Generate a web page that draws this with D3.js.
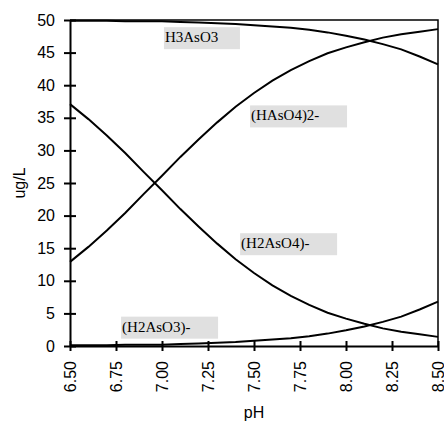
<!DOCTYPE html>
<html>
<head>
<meta charset="utf-8">
<script src="https://cdn.jsdelivr.net/npm/d3@7"></script>
<style>
  body { margin: 0; background: #fff; }
  svg { display: block; }
</style>
</head>
<body>
<div id="chart"></div>
<script>
// pH steps
const pH = [6.5, 6.6, 6.7, 6.8, 6.9, 7.0, 7.1, 7.2, 7.3, 7.4, 7.5,
            7.6, 7.7, 7.8, 7.9, 8.0, 8.1, 8.2, 8.3, 8.4, 8.5];
// concentrations, ug/L
const h3aso3  = [49.9, 49.9, 49.9, 49.8, 49.8, 49.8, 49.7, 49.6, 49.5, 49.4, 49.2,
                 49.0, 48.8, 48.5, 48.1, 47.6, 47.0, 46.3, 45.5, 44.4, 43.2];
const h2aso3  = [0.1, 0.1, 0.1, 0.2, 0.2, 0.2, 0.3, 0.4, 0.5, 0.6, 0.8,
                 1.0, 1.2, 1.5, 1.9, 2.4, 3.0, 3.7, 4.5, 5.6, 6.8];
const h2aso4  = [37.1, 34.8, 32.3, 29.6, 26.7, 23.9, 21.0, 18.3, 15.7, 13.3, 11.2,
                 9.3, 7.7, 6.3, 5.1, 4.2, 3.4, 2.7, 2.2, 1.8, 1.4];
const haso4   = [12.9, 15.2, 17.7, 20.4, 23.3, 26.1, 29.0, 31.7, 34.3, 36.7, 38.8,
                 40.7, 42.3, 43.7, 44.9, 45.8, 46.6, 47.3, 47.8, 48.2, 48.6];
const xTicks = [6.5, 6.75, 7.0, 7.25, 7.5, 7.75, 8.0, 8.25, 8.5];
const yTicks = [0, 5, 10, 15, 20, 25, 30, 35, 40, 45, 50];
// labels placed at (pH, ug/L) of the text baseline start
const labels = [
  { text: "H3AsO3",    px: 7.016, v: 46.6, w: 76 },
  { text: "(HAsO4)2-", px: 7.484, v: 34.6, w: 97 },
  { text: "(H2AsO4)-", px: 7.43,  v: 15.0, w: 97 },
  { text: "(H2AsO3)-", px: 6.783, v: 2.2,  w: 97 }
];

const width = 444, height = 424;
const margin = { top: 20, right: 6, bottom: 78, left: 70 };
const svg = d3.select("#chart").append("svg")
  .attr("width", width).attr("height", height);

const x = d3.scaleLinear().domain([6.5, 8.5]).range([margin.left, width - margin.right]);
const y = d3.scaleLinear().domain([0, 50]).range([height - margin.bottom, margin.top]);

// frame (top and right)
svg.append("path")
  .attr("d", "M" + x(6.5) + "," + y(50) + "H" + x(8.5) + "V" + y(0))
  .attr("fill", "none").attr("stroke", "#000").attr("stroke-width", 1.5);

// label boxes
labels.forEach(l => {
  svg.append("rect")
    .attr("x", x(l.px) - 1).attr("y", y(l.v) - 15)
    .attr("width", l.w).attr("height", 22)
    .attr("fill", "#e0e0e0");
  svg.append("text")
    .attr("x", x(l.px)).attr("y", y(l.v))
    .attr("font-family", "Liberation Serif, serif")
    .attr("font-size", 15)
    .attr("fill", "#000")
    .text(l.text);
});

// curves
const line = d3.line().x((d, i) => x(pH[i])).y(d => y(d));
[h3aso3, h2aso3, h2aso4, haso4].forEach(s => {
  svg.append("path")
    .attr("d", line(s))
    .attr("fill", "none").attr("stroke", "#000").attr("stroke-width", 2);
});

// y axis
const yAxis = svg.append("g")
  .attr("transform", "translate(" + x(6.5) + ",0)")
  .call(d3.axisLeft(y).tickValues(yTicks).tickSize(0).tickPadding(15));
yAxis.select(".domain").attr("stroke", "#000").attr("stroke-width", 2);
yAxis.selectAll("text").attr("font-family", "Liberation Sans, Arial, sans-serif")
  .attr("font-size", 16).attr("fill", "#000");
yAxis.selectAll(".tick").append("line")
  .attr("x1", -6).attr("x2", 6).attr("stroke", "#000").attr("stroke-width", 2);

// x axis
const xAxis = svg.append("g")
  .attr("transform", "translate(0," + y(0) + ")")
  .call(d3.axisBottom(x).tickValues(xTicks).tickSize(0).tickFormat(d3.format(".2f")));
xAxis.select(".domain").attr("stroke", "#000").attr("stroke-width", 2);
xAxis.selectAll(".tick").append("line")
  .attr("y1", -5).attr("y2", 5).attr("stroke", "#000").attr("stroke-width", 2);
xAxis.selectAll("text")
  .attr("font-family", "Liberation Sans, Arial, sans-serif")
  .attr("font-size", 16).attr("fill", "#000")
  .attr("text-anchor", "end")
  .attr("transform", "rotate(-90)")
  .attr("x", -15).attr("y", 0).attr("dy", "0.35em");

// axis titles
svg.append("text")
  .attr("x", (x(6.5) + x(8.5)) / 2).attr("y", 418)
  .attr("text-anchor", "middle")
  .attr("font-family", "Liberation Sans, Arial, sans-serif").attr("font-size", 16)
  .text("pH");
svg.append("text")
  .attr("transform", "translate(25," + (y(0) + y(50)) / 2 + ") rotate(-90)")
  .attr("text-anchor", "middle")
  .attr("font-family", "Liberation Sans, Arial, sans-serif").attr("font-size", 16)
  .text("ug/L");
</script>
</body>
</html>
